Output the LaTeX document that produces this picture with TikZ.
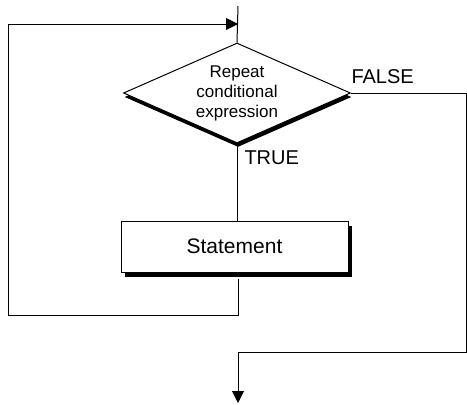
\documentclass[tikz,border=0pt]{standalone}
\usepackage{fontspec}
\setmainfont{Liberation Sans}
\usetikzlibrary{shapes.geometric,shadows,arrows.meta}
\begin{document}
\begin{tikzpicture}[x=1pt,y=1pt,
  line width=1pt,
  flowline/.style={draw=black,line width=1pt},
  tip/.style={-{Triangle[length=12pt,width=12pt]}},
  decision/.style={diamond,draw,fill=white,line width=1pt,aspect=2.27,minimum width=227pt,minimum height=100pt,inner sep=0pt,
    align=center,font=\fontsize{17}{20}\selectfont,
    general shadow={fill=black,shadow xshift=1pt,shadow yshift=-4pt}},
  stmtbox/.style={rectangle,draw,fill=white,line width=1pt,minimum width=227pt,minimum height=51pt,inner sep=0pt,
    font=\fontsize{21}{25}\selectfont,
    general shadow={fill=black,shadow xshift=4pt,shadow yshift=-5pt}},
  lbl/.style={font=\fontsize{20}{24}\selectfont,inner sep=0pt}]
\useasboundingbox (0,0) rectangle (467,-405);
\coordinate (top) at (238,-6);
\coordinate (join) at (238,-24);
\coordinate (ret) at (8,-24);
\coordinate (back) at (238,-315);
\coordinate (fc) at (466,-352);
\coordinate (out) at (238,-403);
\node[decision] (dia) at (237,-93) {Repeat\\conditional\\expression};
\node[stmtbox] (stmt) at (234.5,-246.5) {Statement};
\draw[flowline] (top) -- (dia.north);
\draw[flowline] (dia.south) -- (dia.south |- stmt.north);
\draw[flowline,tip] (back |- stmt.south) ++(0,-6) -- (back) -| (ret) -- (join);
\draw[flowline,tip] (dia.east) -| (fc) -| (out);
\node[lbl,anchor=base west] (false) at (351,-83) {FALSE};
\node[lbl,anchor=base west] (true) at (244,-164) {TRUE};
\end{tikzpicture}
\end{document}
